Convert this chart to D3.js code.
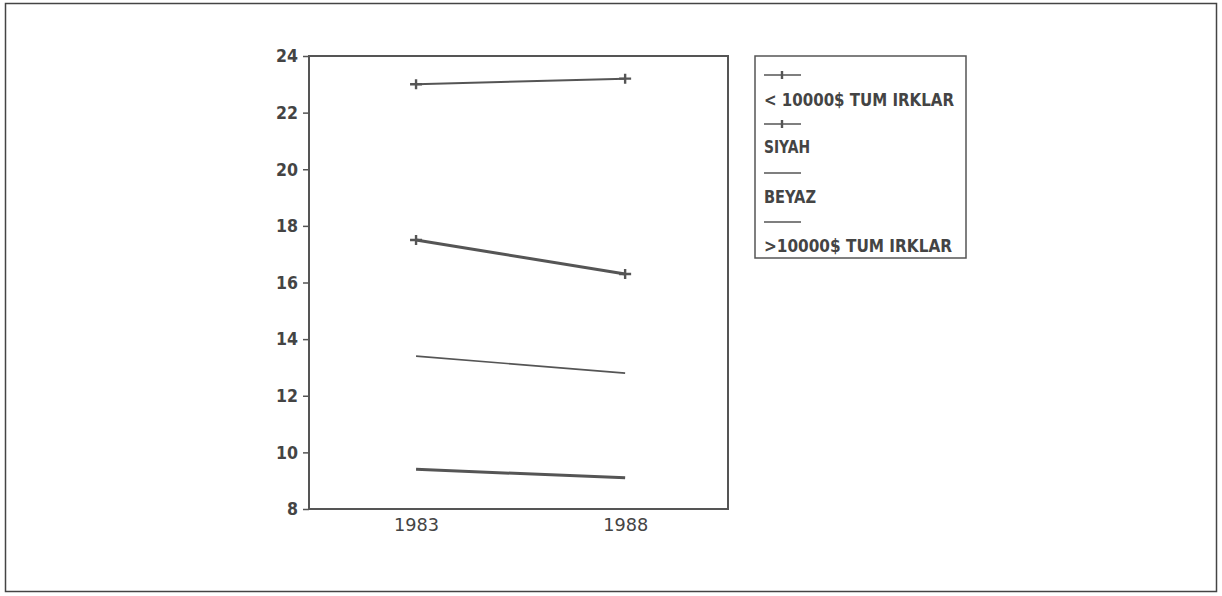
<!DOCTYPE html>
<html><head><meta charset="utf-8">
<script src="https://cdn.jsdelivr.net/npm/d3@7"></script>
<style>body{margin:0;background:#fff}svg{display:block}</style>
</head><body>
<svg id="c" width="1222" height="596"></svg>
<script>
const years = [1983, 1988];
const seriesNames = ["< 10000$ TUM IRKLAR", "SIYAH", "BEYAZ", ">10000$ TUM IRKLAR"];
const tumLow = [23.0, 23.2];
const siyah = [17.5, 16.3];
const beyaz = [13.4, 12.8];
const tumHigh = [9.4, 9.1];
const yTicks = [8, 10, 12, 14, 16, 18, 20, 22, 24];
const xTicks = [1983, 1988];

const series = [
  {name: seriesNames[0], values: tumLow, marker: true, width: 2},
  {name: seriesNames[1], values: siyah, marker: true, width: 3},
  {name: seriesNames[2], values: beyaz, marker: false, width: 1.6},
  {name: seriesNames[3], values: tumHigh, marker: false, width: 3}
];

const svg = d3.select("#c");
const ink = "#555";
const fontF = "'DejaVu Sans Condensed','DejaVu Sans',sans-serif";

svg.append("rect").attr("x", 5.5).attr("y", 3.5).attr("width", 1211).attr("height", 588)
  .attr("fill", "none").attr("stroke", "#444").attr("stroke-width", 1.5);

const L = 309, R = 728, T = 56, B = 509;
const x = d3.scaleLinear().domain([1980.44, 1990.46]).range([L, R]);
const y = d3.scaleLinear().domain([8, 24]).range([B, T]);

svg.append("rect").attr("x", L).attr("y", T).attr("width", R - L).attr("height", B - T)
  .attr("fill", "none").attr("stroke", ink).attr("stroke-width", 2);

const yAx = svg.append("g").attr("transform", `translate(${L},0)`)
  .call(d3.axisLeft(y).tickValues(yTicks).tickSize(6).tickPadding(5).tickFormat(d3.format("d")));
yAx.select(".domain").remove();
yAx.selectAll("line").attr("stroke", ink).attr("stroke-width", 1.5);
yAx.selectAll("text").attr("fill", "#444").style("font-family", fontF)
  .style("font-size", "18px").style("font-weight", "bold")
  .attr("textLength", d => String(d).length * 11).attr("lengthAdjust", "spacingAndGlyphs");

const xAx = svg.append("g").attr("transform", `translate(0,${B})`)
  .call(d3.axisBottom(x).tickValues(xTicks).tickSize(0).tickPadding(9).tickFormat(d3.format("d")));
xAx.select(".domain").remove();
xAx.selectAll("text").attr("fill", "#444").style("font-family", fontF)
  .style("font-size", "18px").attr("textLength", 45).attr("lengthAdjust", "spacingAndGlyphs");

const line = d3.line().x((d, i) => x(years[i])).y(d => y(d));
series.forEach(s => {
  svg.append("path").datum(s.values).attr("d", line).attr("fill", "none")
    .attr("stroke", "#555").attr("stroke-width", s.width);
  if (s.marker) {
    s.values.forEach((v, i) => {
      const cx = x(years[i]), cy = y(v);
      svg.append("path").attr("d", `M${cx-6},${cy}H${cx+6}M${cx},${cy-5}V${cy+5}`)
        .attr("stroke", "#555").attr("stroke-width", 2.4);
    });
  }
});

// legend
const lg = svg.append("g");
lg.append("rect").attr("x", 755).attr("y", 56).attr("width", 211).attr("height", 202)
  .attr("fill", "none").attr("stroke", ink).attr("stroke-width", 1.5);
const sampleY = [75, 124, 173, 222];
const textY = [106, 153, 203, 252];
const textW = [190, 46, 52, 188];
series.forEach((s, i) => {
  lg.append("line").attr("x1", 764).attr("x2", 801).attr("y1", sampleY[i]).attr("y2", sampleY[i])
    .attr("stroke", "#555").attr("stroke-width", 1.6);
  if (s.marker) {
    lg.append("line").attr("x1", 782).attr("x2", 782).attr("y1", sampleY[i] - 4).attr("y2", sampleY[i] + 4)
      .attr("stroke", "#555").attr("stroke-width", 2.4);
  }
  lg.append("text").attr("x", 764).attr("y", textY[i]).text(s.name)
    .attr("fill", "#444").style("font-family", fontF).style("font-size", "17px")
    .style("font-weight", "bold").attr("textLength", textW[i])
    .attr("lengthAdjust", "spacingAndGlyphs");
});
</script>
</body></html>
